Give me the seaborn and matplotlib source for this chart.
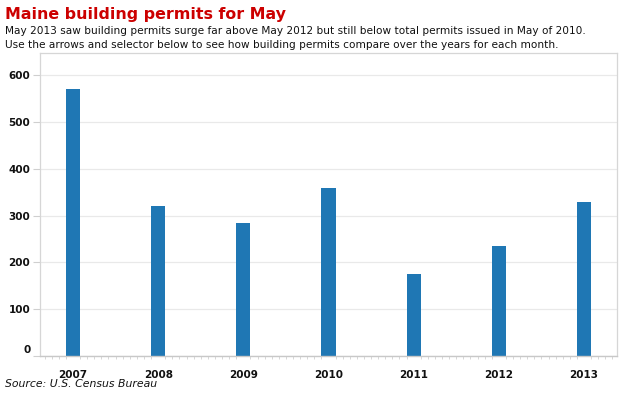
import matplotlib
matplotlib.use("Agg")
import matplotlib.pyplot as plt
from matplotlib.ticker import FixedLocator
import matplotlib.transforms as mtransforms
import seaborn as sns
import pandas as pd

years = ["2007", "2008", "2009", "2010", "2011", "2012", "2013"]
permits = [570, 321, 285, 360, 176, 236, 330]
y_ticks = [0, 100, 200, 300, 400, 500, 600]

title = "Maine building permits for May"
subtitle = ("May 2013 saw building permits surge far above May 2012 but still below total permits issued in May of 2010.\n"
            "Use the arrows and selector below to see how building permits compare over the years for each month.")
source = "Source: U.S. Census Bureau"

df = pd.DataFrame({"year": years, "permits": permits})

sns.set_theme(style="white")
plt.rcParams["font.family"] = ["DejaVu Sans"]

fig = plt.figure(figsize=(6.24, 3.99), dpi=100)
ax = fig.add_axes([40/624, 1-356/399, (617-40)/624, (356-53)/399])

sns.barplot(data=df, x="year", y="permits", order=years, color="#1f77b4",
            width=0.165, saturation=1, ax=ax)
for p in ax.patches:
    p.set_edgecolor("none")

ax.set_xlim(-0.387, 6.387)
ax.set_ylim(0, 648)
ax.set_yticks(y_ticks)
ax.set_yticklabels([str(v) for v in y_ticks], fontsize=7.5, fontweight="bold", color="#111111")
ax.set_xticks(range(len(years)))
ax.set_xticklabels(years, fontsize=7.5, fontweight="bold", color="#111111")
ax.set_xlabel("")
ax.set_ylabel("")

ax.yaxis.grid(True, color="#e9e9e9", linewidth=0.9)
ax.set_axisbelow(True)
for s in ["left", "right", "top"]:
    ax.spines[s].set_color("#d6d6d6")
    ax.spines[s].set_linewidth(0.9)
ax.spines["bottom"].set_color("#c8c8c8")
ax.spines["bottom"].set_linewidth(1.0)

ax.tick_params(axis="y", which="major", left=True, length=5, width=0.8, color="#cfcfcf", pad=2)
ax.tick_params(axis="x", which="major", bottom=False, pad=4)
minor = [i + k/12 for i in range(-1, 8) for k in range(12)]
minor = [m for m in minor if -0.387 < m < 6.387]
ax.xaxis.set_minor_locator(FixedLocator(minor))
ax.tick_params(axis="x", which="minor", bottom=True, length=2.5, width=0.6, color="#d0d0d0")

lbl0 = ax.get_yticklabels()[0]
lbl0.set_transform(lbl0.get_transform() + mtransforms.ScaledTranslation(0, 5/72, fig.dpi_scale_trans))

fig.text(5/624, 1-14/399, title, fontsize=11.4, fontweight="bold", color="#cc0000",
         ha="left", va="center")
fig.text(5/624, 1-38/399, subtitle, fontsize=7.6, color="#111111", ha="left", va="center",
         linespacing=1.45)
fig.text(5/624, 1-384/399, source, fontsize=7.8, style="italic", color="#111111",
         ha="left", va="center")

fig.savefig("out.png", dpi=100)
